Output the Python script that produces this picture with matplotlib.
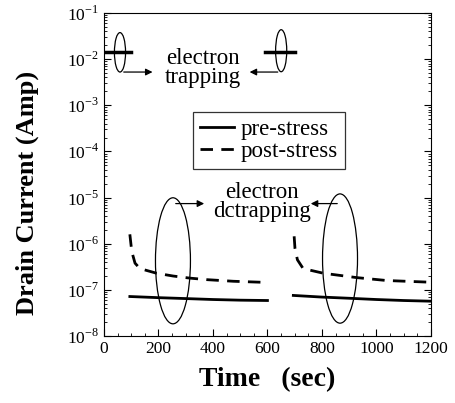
import numpy as np
import matplotlib.pyplot as plt
from matplotlib.patches import Ellipse
from matplotlib.ticker import MultipleLocator, LogLocator, NullFormatter

# --- data ---
# pre-stress (solid), two 500 s windows
pre_t1 = [95, 200, 300, 400, 500, 600]
pre_i1 = [7.2e-8, 6.8e-8, 6.5e-8, 6.2e-8, 6.0e-8, 5.9e-8]
pre_t2 = [695, 800, 900, 1000, 1100, 1200]
pre_i2 = [7.6e-8, 7.0e-8, 6.6e-8, 6.2e-8, 5.9e-8, 5.7e-8]

# post-stress (dashed)
post_t1 = [95, 102, 114, 132, 193, 254, 316, 377, 475, 602]
post_i1 = [1.6e-6, 6.8e-7, 3.8e-7, 2.9e-7, 2.3e-7, 2.0e-7, 1.8e-7, 1.67e-7, 1.54e-7, 1.45e-7]
post_t2 = [698, 701, 710, 731, 805, 927, 1037, 1184, 1200]
post_i2 = [1.45e-6, 8.0e-7, 4.5e-7, 2.9e-7, 2.3e-7, 1.85e-7, 1.6e-7, 1.48e-7, 1.47e-7]

# high-current stress level (both curves overlap)
stress_t1 = [0, 100]
stress_t2 = [590, 700]
stress_i = [1.4e-2, 1.4e-2]

plt.rcParams['font.family'] = 'Liberation Serif'
plt.rcParams['mathtext.fontset'] = 'custom'
plt.rcParams['mathtext.rm'] = 'Liberation Serif'

fig = plt.figure(figsize=(4.56, 4.03), dpi=100)
ax = fig.add_axes([0.228, 0.166, 0.717, 0.802])

ax.plot(pre_t1, pre_i1, color='black', lw=2, label='pre-stress')
ax.plot(pre_t2, pre_i2, color='black', lw=2)
ax.plot(post_t1, post_i1, color='black', lw=2, ls=(0, (4.5, 3)), label='post-stress')
ax.plot(post_t2, post_i2, color='black', lw=2, ls=(0, (4.5, 3)))
ax.plot(stress_t1, stress_i, color='black', lw=2.5)
ax.plot(stress_t2, stress_i, color='black', lw=2.5)

ax.set_yscale('log')
ax.set_xlim(0, 1200)
ax.set_ylim(1e-8, 1e-1)

ax.xaxis.set_major_locator(MultipleLocator(200))
ax.xaxis.set_minor_locator(MultipleLocator(50))
ax.yaxis.set_minor_locator(LogLocator(base=10, subs=np.arange(2, 10), numticks=10))
ax.yaxis.set_minor_formatter(NullFormatter())
ax.tick_params(which='both', direction='in', labelsize=12.5, right=True)
ax.tick_params(which='major', length=5)
ax.tick_params(which='minor', length=2.5)
ax.set_xticks(range(0, 1201, 200))
ax.set_xticklabels([str(v) for v in range(0, 1201, 200)])
ax.set_yticks([10.0 ** k for k in range(-8, 0)])
ax.set_yticklabels([r'$10^{%d}$' % k for k in range(-8, 0)])

ax.set_xlabel('Time   (sec)', fontsize=20, fontweight='bold', labelpad=7)
ax.set_ylabel('Drain Current (Amp)', fontsize=19, fontweight='bold')
ax.yaxis.set_label_coords(-0.2, 0.443)

# ellipses and arrows (axes coordinates for geometry on log axis)
ell_kw = dict(transform=ax.transAxes, fill=False, ec='black', lw=0.9)
ax.add_patch(Ellipse((0.049, 0.878), 0.034, 0.122, **ell_kw))
ax.add_patch(Ellipse((0.542, 0.883), 0.034, 0.13, **ell_kw))
ax.add_patch(Ellipse((0.211, 0.233), 0.107, 0.39, **ell_kw))
ax.add_patch(Ellipse((0.722, 0.24), 0.107, 0.40, **ell_kw))

arr = dict(arrowstyle='-|>', color='black', lw=0.9, mutation_scale=10)
ax.annotate('', xy=(0.157, 0.817), xytext=(0.052, 0.817), xycoords='axes fraction', arrowprops=arr)
ax.annotate('', xy=(0.437, 0.817), xytext=(0.54, 0.817), xycoords='axes fraction', arrowprops=arr)
ax.annotate('', xy=(0.315, 0.41), xytext=(0.211, 0.41), xycoords='axes fraction', arrowprops=arr)
ax.annotate('', xy=(0.624, 0.41), xytext=(0.722, 0.41), xycoords='axes fraction', arrowprops=arr)

ax.text(0.303, 0.83, 'electron\ntrapping', transform=ax.transAxes, ha='center', va='center',
        fontsize=16.5, linespacing=0.9)
ax.text(0.482, 0.415, 'electron\ndctrapping', transform=ax.transAxes, ha='center', va='center',
        fontsize=16.5, linespacing=0.9)

leg = ax.legend(loc='upper left', bbox_to_anchor=(0.272, 0.693), borderaxespad=0, fontsize=16.5,
                frameon=True, fancybox=False, edgecolor='black', handlelength=1.5,
                borderpad=0.3, labelspacing=0.05, handletextpad=0.3)
leg.get_frame().set_linewidth(0.9)

fig.savefig('out.png', dpi=100)
